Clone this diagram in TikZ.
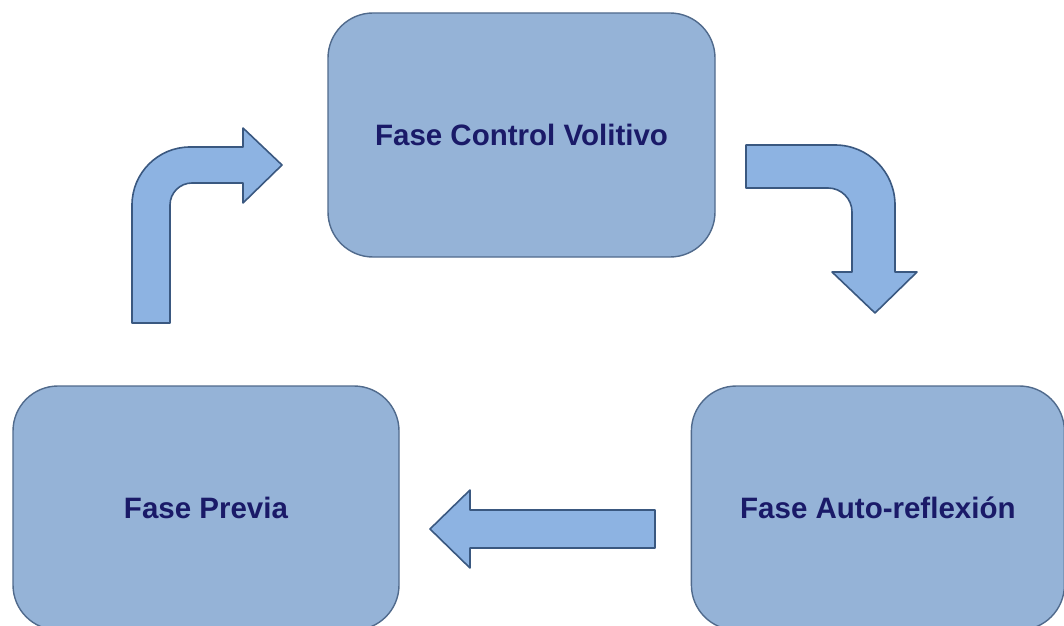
\documentclass[tikz,border=0pt]{standalone}
\usepackage{fontspec}
\setmainfont{Liberation Sans}
\usetikzlibrary{positioning}
\definecolor{boxfill}{HTML}{95B3D7}
\definecolor{boxline}{HTML}{506A8C}
\definecolor{arrowfill}{HTML}{8DB3E2}
\definecolor{arrowline}{HTML}{3A5880}
\definecolor{labeltext}{HTML}{1A1A68}

\begin{document}
\begin{tikzpicture}[
  x=1pt, y=1pt,
  phase/.style={
    draw=boxline,
    fill=boxfill,
    line width=1.4pt,
    rounded corners=45pt,
    minimum height=244pt,
    inner sep=0pt,
    text=labeltext,
    font=\fontsize{29.5}{35}\selectfont\bfseries
  },
  blockarrow/.style={draw=arrowline, fill=arrowfill, line width=1.6pt, line join=round}
]
\useasboundingbox (0,0) rectangle (1064,625);
\node[phase, minimum width=387pt] (control) at (521.5,490) {Fase Control Volitivo};
\node[phase, minimum width=386pt] (previa) at (206,117) {Fase Previa};
\node[phase, minimum width=373pt, right=291pt of previa] (autoref) {Fase Auto-reflexión};

\draw[blockarrow] (132,302) -- (132,420) arc[start angle=180, end angle=90, radius=58]
  -- (243,478) -- (243,497) -- (282,460) -- (243,422) -- (243,442) -- (192,442)
  arc[start angle=90, end angle=180, radius=22] -- (170,302) -- cycle;
\draw[blockarrow] (746,480) -- (835,480) arc[start angle=90, end angle=0, radius=60]
  -- (895,353) -- (917,353) -- (875,312) -- (832,353) -- (852,353) -- (852,413)
  arc[start angle=0, end angle=90, radius=24] -- (746,437) -- cycle;
\draw[blockarrow] (655,115) -- (470,115) -- (470,135) -- (430,96) -- (470,57)
  -- (470,77) -- (655,77) -- cycle;
\end{tikzpicture}
\end{document}
